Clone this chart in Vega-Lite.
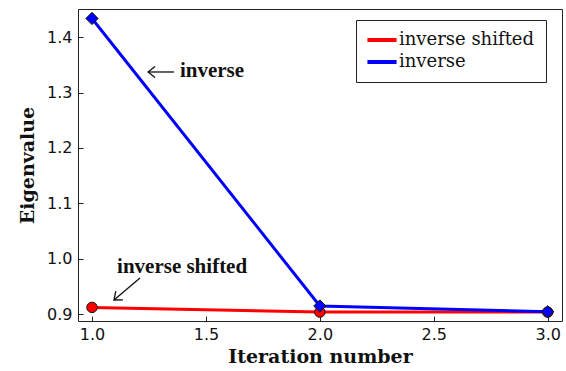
{
  "$schema": "https://vega.github.io/schema/vega-lite/v6.json",
  "width": 484,
  "height": 312,
  "autosize": {"type": "none"},
  "padding": {"left": 78, "top": 9, "right": 4, "bottom": 50},
  "background": "white",
  "config": {
    "view": {"stroke": "#222", "strokeWidth": 1},
    "axis": {
      "grid": false,
      "domain": false,
      "tickColor": "#222",
      "tickSize": -5,
      "labelFont": "DejaVu Sans",
      "labelFontSize": 16,
      "labelColor": "#111",
      "titleFont": "DejaVu Serif",
      "titleFontWeight": "bold",
      "titleFontSize": 19,
      "titleColor": "#111"
    }
  },
  "datasets": {
    "series": [
      {"method": "inverse shifted", "iteration": 1, "eigenvalue": 0.912},
      {"method": "inverse shifted", "iteration": 2, "eigenvalue": 0.9035},
      {"method": "inverse shifted", "iteration": 3, "eigenvalue": 0.9035},
      {"method": "inverse", "iteration": 1, "eigenvalue": 1.434},
      {"method": "inverse", "iteration": 2, "eigenvalue": 0.9145},
      {"method": "inverse", "iteration": 3, "eigenvalue": 0.904}
    ],
    "notes": [
      {"label": "inverse", "iteration": 1.386, "eigenvalue": 1.3288},
      {"label": "inverse shifted", "iteration": 1.11, "eigenvalue": 0.9735}
    ],
    "arrows": [
      {"label": "inverse", "iteration": 1.246, "eigenvalue": 1.3373, "iteration_end": 1.36, "eigenvalue_end": 1.3373},
      {"label": "inverse shifted", "iteration": 1.0966, "eigenvalue": 0.9253, "iteration_end": 1.2107, "eigenvalue_end": 0.9651}
    ]
  },
  "encoding": {
    "x": {
      "field": "iteration",
      "type": "quantitative",
      "scale": {"domain": [0.9386, 3.0628], "nice": false, "zero": false},
      "axis": {"values": [1, 1.5, 2, 2.5, 3], "format": ".1f", "title": "Iteration number", "labelPadding": 10, "titlePadding": 5}
    },
    "y": {
      "field": "eigenvalue",
      "type": "quantitative",
      "scale": {"domain": [0.8874, 1.4511], "nice": false, "zero": false},
      "axis": {"values": [0.9, 1.0, 1.1, 1.2, 1.3, 1.4], "format": ".1f", "title": "Eigenvalue", "labelPadding": 11, "titlePadding": 9}
    }
  },
  "layer": [
    {
      "data": {"name": "series"},
      "transform": [{"filter": "datum.method === 'inverse shifted'"}],
      "mark": {"type": "line", "strokeWidth": 3},
      "encoding": {
        "color": {
          "field": "method",
          "type": "nominal",
          "scale": {"domain": ["inverse shifted", "inverse"], "range": ["#ff0000", "#0000ff"]},
          "legend": {
            "title": null,
            "orient": "none",
            "legendX": 278,
            "legendY": 11,
            "padding": 11,
            "strokeColor": "#222",
            "fillColor": "white",
            "cornerRadius": 0,
            "symbolType": "M-2.5,0H2.5",
            "symbolSize": 136,
            "symbolStrokeWidth": 4,
            "symbolOffset": 6,
            "labelFont": "DejaVu Serif",
            "labelFontSize": 18,
            "labelColor": "#111",
            "labelOffset": 8,
            "rowPadding": 4
          }
        }
      }
    },
    {
      "data": {"name": "series"},
      "transform": [{"filter": "datum.method === 'inverse shifted'"}],
      "mark": {"type": "point", "filled": true, "opacity": 1, "shape": "circle", "size": 110, "stroke": "#111", "strokeWidth": 1},
      "encoding": {
        "fill": {
          "field": "method",
          "type": "nominal",
          "scale": {"domain": ["inverse shifted", "inverse"], "range": ["#ff0000", "#0000ff"]},
          "legend": null
        }
      }
    },
    {
      "data": {"name": "series"},
      "transform": [{"filter": "datum.method === 'inverse'"}],
      "mark": {"type": "line", "strokeWidth": 3},
      "encoding": {
        "color": {"field": "method", "type": "nominal"}
      }
    },
    {
      "data": {"name": "series"},
      "transform": [{"filter": "datum.method === 'inverse'"}],
      "mark": {"type": "point", "filled": true, "opacity": 1, "shape": "diamond", "size": 150, "stroke": "#111", "strokeWidth": 1},
      "encoding": {
        "fill": {"field": "method", "type": "nominal", "legend": null}
      }
    },
    {
      "data": {"name": "arrows"},
      "mark": {"type": "rule", "color": "#111", "strokeWidth": 1.3},
      "encoding": {
        "x2": {"field": "iteration_end"},
        "y2": {"field": "eigenvalue_end"}
      }
    },
    {
      "data": {"name": "arrows"},
      "transform": [{"filter": "datum.label === 'inverse'"}],
      "mark": {"type": "point", "shape": "M1,-0.8L0,0L1,0.8", "size": 196, "filled": false, "stroke": "#111", "strokeWidth": 1.3, "opacity": 1, "angle": 0},
      "encoding": {}
    },
    {
      "data": {"name": "arrows"},
      "transform": [{"filter": "datum.label === 'inverse shifted'"}],
      "mark": {"type": "point", "shape": "M1,-0.8L0,0L1,0.8", "size": 196, "filled": false, "stroke": "#111", "strokeWidth": 1.3, "opacity": 1, "angle": 320},
      "encoding": {}
    },
    {
      "data": {"name": "notes"},
      "mark": {"type": "text", "align": "left", "baseline": "alphabetic", "font": "Liberation Serif", "fontWeight": "bold", "fontSize": 21, "color": "#111"},
      "encoding": {
        "text": {"field": "label"}
      }
    }
  ]
}
